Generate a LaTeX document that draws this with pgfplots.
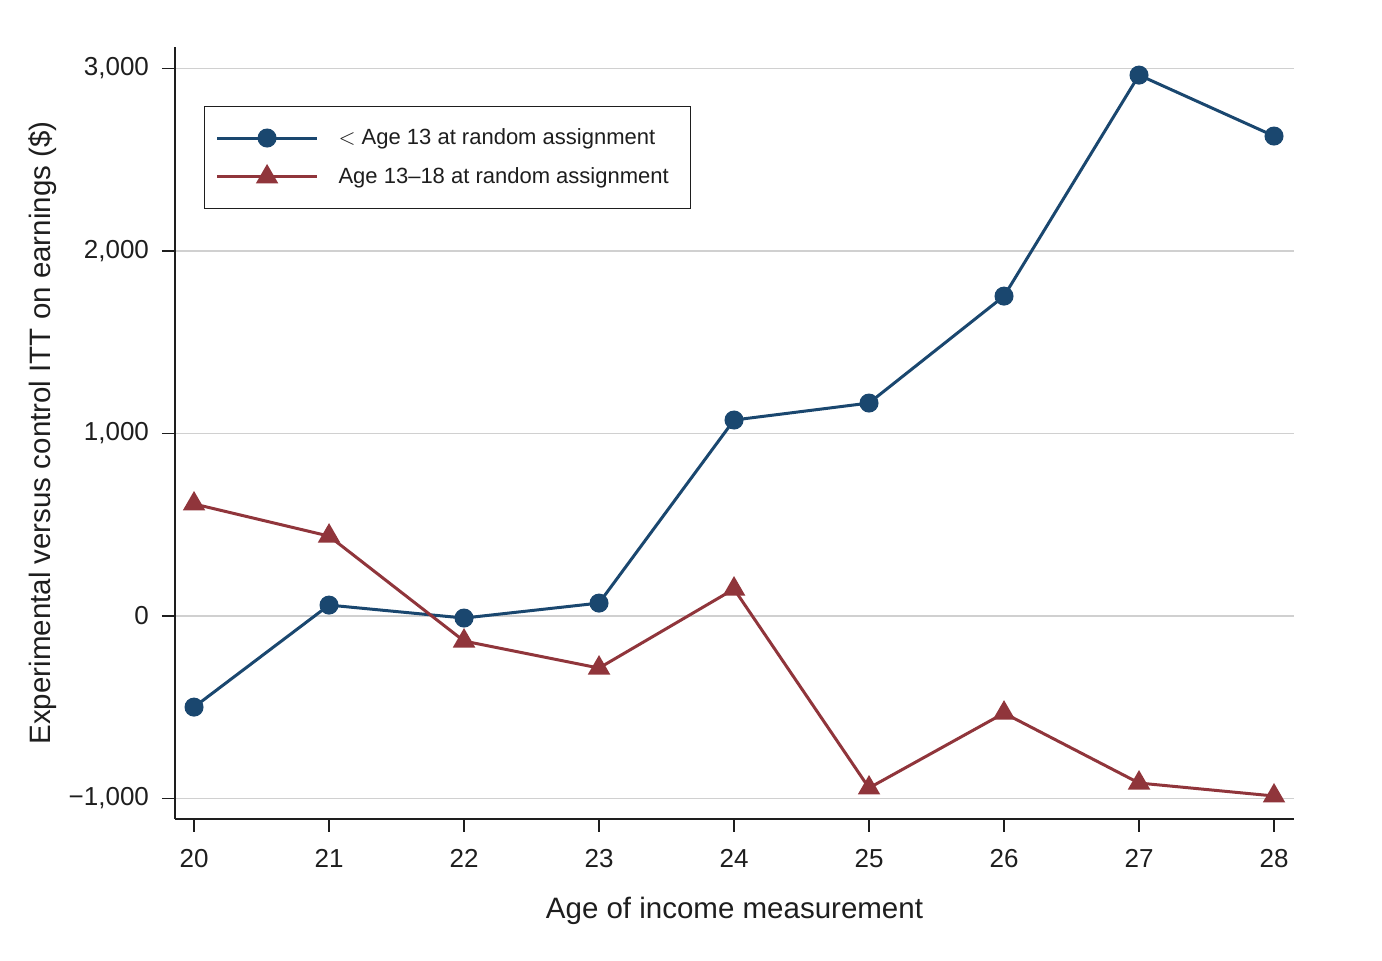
\documentclass[border=0pt]{standalone}
\usepackage{pgfplots}
\pgfplotsset{compat=1.18}
\usepackage{fontspec}
\setmainfont{Liberation Sans}
\definecolor{sblue}{HTML}{1A476F}
\definecolor{sred}{HTML}{90353B}
\definecolor{gridgray}{HTML}{D0D0D0}
\definecolor{txt}{HTML}{1E1E1E}
\begin{document}
\begin{tikzpicture}
\begin{axis}[
    at={(0,0)}, anchor=south west,
    scale only axis,
    width=559.5pt, height=386pt,
    xmin=19.859, xmax=28.148,
    ymin=-1112, ymax=3118,
    axis x line*=bottom, axis y line*=left,
    axis line style={line width=0.6pt, txt},
    tick align=outside,
    major tick length=6.5pt,
    tick style={line width=0.6pt, txt},
    xtick={20,...,28},
    ytick={-1000,0,1000,2000,3000},
    yticklabels={{−1,000},{0},{1,000},{2,000},{3,000}},
    /pgf/number format/assume math mode=true,
    ymajorgrids,
    grid style={line width=0.75pt, gridgray},
    ticklabel style={font=\fontsize{13}{15}\selectfont, text=txt},
    xticklabel style={yshift=-5pt},
    yticklabel style={xshift=-3pt},
    label style={font=\fontsize{14.75}{17}\selectfont, text=txt},
    xlabel={Age of income measurement},
    ylabel={Experimental versus control ITT on earnings (\$)},
    x label style={at={(axis description cs:0.5,-0.1192)}, anchor=center},
    y label style={at={(axis description cs:-0.118,0.5)}, anchor=center},
    clip=false,
    legend cell align=left,
    legend style={at={(axis description cs:0.0259,0.9236)}, anchor=north west,
        draw=txt, line width=0.6pt, fill=white,
        font=\fontsize{11}{13}\selectfont, text=txt,
        inner xsep=5.5pt, inner ysep=9pt, row sep=6pt, column sep=7pt,
        nodes={inner xsep=3pt, inner ysep=2pt}},
    legend image code/.code={%
        \draw[mark repeat=2, mark phase=2, #1] plot coordinates {(0pt,0pt) (25pt,0pt) (50pt,0pt)};},
]
\addplot[sblue, line width=1.5pt, mark=*, mark size=4pt, mark options={solid, fill=sblue}]
coordinates {(20,-499) (21,60) (22,-11) (23,71) (24,1074) (25,1167) (26,1753) (27,2964) (28,2630)};
\addlegendentry{$<$ Age 13 at random assignment}
\addplot[sred, line width=1.5pt, mark=triangle*, mark size=5pt, mark options={solid, fill=sred}]
coordinates {(20,614) (21,438) (22,-137) (23,-285) (24,148) (25,-942) (26,-532) (27,-915) (28,-986)};
\addlegendentry{Age 13–18 at random assignment\kern2.5pt}
\end{axis}
\pgfresetboundingbox
\path (-87.5pt,-71pt) rectangle (603.5pt,409.5pt);
\end{tikzpicture}
\end{document}
